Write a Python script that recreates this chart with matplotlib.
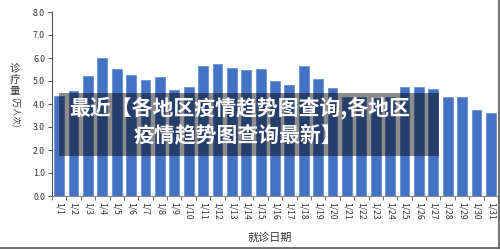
import matplotlib.pyplot as plt
from matplotlib.patches import Rectangle
from matplotlib.lines import Line2D
import numpy as np

plt.rcParams['font.family'] = ['Noto Sans CJK SC', 'DejaVu Sans']

# 数据
days = ['1/%d' % d for d in range(1, 32)]
visits = [4.35, 4.55, 5.2, 6.0, 5.53, 5.27, 5.06, 5.19, 4.6, 4.72,
          5.65, 5.75, 5.58, 5.47, 5.52, 5.0, 4.81, 5.65, 5.09, 4.68,
          4.3, 4.3, 4.25, 4.3, 4.75, 4.75, 4.64, 4.29, 4.29, 3.75, 3.6]
y_ticks = [0, 1, 2, 3, 4, 5, 6, 7, 8]

fig = plt.figure(figsize=(5, 2.5), dpi=100)
ax = fig.add_axes([0.104, 0.216, 0.892, 0.736])

x = np.arange(len(days))
ax.bar(x, visits, width=0.68, color='#4472c4', edgecolor='#6a8fd3', linewidth=0.6)

ax.set_xlim(-0.5, len(days) - 0.5)
ax.set_ylim(0, 8)
ax.set_yticks(y_ticks)
ax.set_yticklabels(['%.1f' % v for v in y_ticks], fontsize=6.3, color='#333333')
ax.set_xticks(x)
ax.set_xticklabels(days, rotation=270, fontsize=6.2, color='#333333')
ax.set_xticks(np.arange(len(days) + 1) - 0.5, minor=True)
ax.tick_params(axis='x', which='major', length=0, pad=4)
ax.tick_params(axis='x', which='minor', length=3, color='#555555')
ax.tick_params(axis='y', length=3, color='#555555', pad=2)
for s in ['top', 'right']:
    ax.spines[s].set_visible(False)
ax.spines['left'].set_color('#555555')
ax.spines['bottom'].set_color('#888888')

fig.text(0.54, 0.048, '就诊日期', ha='center', va='center', fontsize=8, color='#333333')
# 纵轴标题：竖排
for i, ch in enumerate('诊疗量'):
    fig.text(0.03, 0.728 - i * 0.046, ch, ha='center', va='center', fontsize=7.5,
             color='#333333')
fig.text(0.03, 0.552, '(万人次)', ha='center', va='center', fontsize=6,
         color='#333333', rotation=270)

# 遮罩和标题
fig.patches.append(Rectangle((0.118, 0.376), 0.76, 0.252, transform=fig.transFigure,
                             facecolor='black', alpha=0.45, edgecolor='none'))
fig.text(0.48, 0.568, '最近【各地区疫情趋势图查询,各地区', ha='center', va='center',
         fontsize=15, fontweight='bold', color='white')
fig.text(0.475, 0.46, '疫情趋势图查询最新】', ha='center', va='center',
         fontsize=15, fontweight='bold', color='white')

# 边框
fig.lines.append(Line2D([0, 1], [0.008, 0.008], transform=fig.transFigure, color='#555555', lw=1.2))
fig.lines.append(Line2D([0.998, 0.998], [0.008, 1], transform=fig.transFigure, color='#555555', lw=1.2))

fig.savefig('out.png', dpi=100)
